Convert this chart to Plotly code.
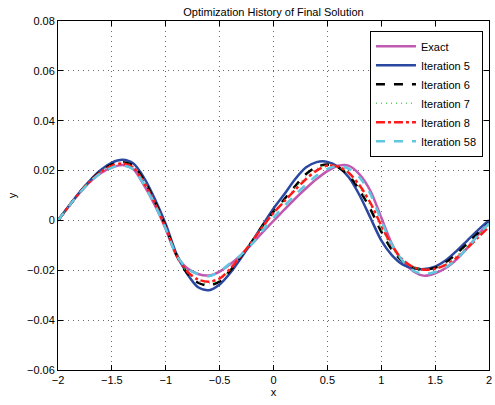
import plotly.graph_objects as go

x_vals = [round(-2 + 0.1 * i, 1) for i in range(41)]

exact = [0.0, 0.0057, 0.0110, 0.0156, 0.0191, 0.0212, 0.0222, 0.0205, 0.0140, 0.0060,
         -0.0035, -0.0140, -0.0192, -0.0215, -0.0221, -0.0205, -0.0175, -0.0138, -0.0094, -0.0047,
         -0.0002, 0.0043, 0.0087, 0.0128, 0.0166, 0.0198, 0.0219, 0.0219, 0.0184, 0.0118,
         0.0012, -0.0095, -0.0165, -0.0205, -0.0222, -0.0212, -0.0191, -0.0156, -0.0110, -0.0057, -0.0010]

iter5 = [0.0, 0.0058, 0.0113, 0.0162, 0.0203, 0.0232, 0.0243, 0.0228, 0.0170, 0.0085,
         -0.0015, -0.0135, -0.0215, -0.0268, -0.0280, -0.0257, -0.0210, -0.0150, -0.0085, -0.0018,
         0.0048, 0.0105, 0.0165, 0.0212, 0.0234, 0.0235, 0.0215, 0.0172, 0.0100, 0.0010,
         -0.0080, -0.0140, -0.0177, -0.0192, -0.0195, -0.0185, -0.0160, -0.0122, -0.0080, -0.0038, 0.0001]

iter6 = [0.0, 0.0057, 0.0112, 0.0160, 0.0198, 0.0225, 0.0234, 0.0220, 0.0160, 0.0075,
         -0.0025, -0.0140, -0.0212, -0.0250, -0.0261, -0.0245, -0.0200, -0.0143, -0.0085, -0.0020,
         0.0035, 0.0085, 0.0137, 0.0185, 0.0215, 0.0224, 0.0213, 0.0180, 0.0120, 0.0045,
         -0.0045, -0.0118, -0.0165, -0.0190, -0.0197, -0.0190, -0.0168, -0.0133, -0.0092, -0.0050, -0.0010]

iter7 = [0.0, 0.0057, 0.0111, 0.0159, 0.0196, 0.0222, 0.0231, 0.0216, 0.0155, 0.0071,
         -0.0028, -0.0140, -0.0208, -0.0243, -0.0253, -0.0239, -0.0196, -0.0141, -0.0085, -0.0022,
         0.0032, 0.0080, 0.0130, 0.0175, 0.0208, 0.0222, 0.0215, 0.0185, 0.0130, 0.0058,
         -0.0032, -0.0110, -0.0162, -0.0189, -0.0197, -0.0192, -0.0173, -0.0141, -0.0101, -0.0059, -0.0018]

iter8 = [0.0, 0.0057, 0.0111, 0.0158, 0.0195, 0.0219, 0.0228, 0.0212, 0.0150, 0.0068,
         -0.0030, -0.0140, -0.0205, -0.0237, -0.0246, -0.0233, -0.0193, -0.0140, -0.0085, -0.0025,
         0.0030, 0.0076, 0.0122, 0.0165, 0.0200, 0.0220, 0.0216, 0.0190, 0.0140, 0.0070,
         -0.0020, -0.0102, -0.0158, -0.0188, -0.0198, -0.0194, -0.0178, -0.0150, -0.0110, -0.0068, -0.0025]

iter58 = [0.0, 0.0057, 0.0110, 0.0156, 0.0191, 0.0212, 0.0221, 0.0205, 0.0142, 0.0062,
          -0.0033, -0.0140, -0.0193, -0.0216, -0.0224, -0.0206, -0.0170, -0.0138, -0.0094, -0.0040,
          0.0012, 0.0058, 0.0102, 0.0143, 0.0180, 0.0207, 0.0219, 0.0207, 0.0172, 0.0105,
          0.0000, -0.0098, -0.0163, -0.0202, -0.0215, -0.0207, -0.0188, -0.0154, -0.0110, -0.0058, -0.0012]

series_names = ["Exact", "Iteration 5", "Iteration 6", "Iteration 7", "Iteration 8", "Iteration 58"]
series_data = [exact, iter5, iter6, iter7, iter8, iter58]
series_colors = ["#c05ab0", "#2a48a0", "#000000", "#5ccc5c", "#ff1a1a", "#5fc8e0"]
series_dash = ["solid", "solid", "dash", "1px,4px", "dashdot", "dash"]
series_width = [2.5, 2.5, 2.5, 1.5, 2.5, 2.5]

x_ticks = [-2, -1.5, -1, -0.5, 0, 0.5, 1, 1.5, 2]
y_ticks = [-0.06, -0.04, -0.02, 0, 0.02, 0.04, 0.06, 0.08]

fig = go.Figure()
for name, ys, c, d, w in zip(series_names, series_data, series_colors, series_dash, series_width):
    fig.add_trace(go.Scatter(
        x=x_vals, y=ys, mode="lines", name=name,
        line=dict(color=c, dash=d, width=w, shape="spline", smoothing=0.8),
    ))

axis_common = dict(
    showline=True, linecolor="black", linewidth=1, mirror="ticks",
    ticks="inside", ticklen=5, tickcolor="black", tickwidth=1,
    showgrid=True, gridcolor="#6a6a6a", gridwidth=1, griddash="1px,4px",
    zeroline=False, tickfont=dict(size=11, color="black"),
    ticklabeloverflow="allow",
)

fig.update_xaxes(range=[-2, 2], tickvals=x_ticks, title=dict(text="x", standoff=3, font=dict(size=11)), **axis_common)
fig.update_yaxes(range=[-0.06, 0.08], tickvals=y_ticks, title=dict(text="y", standoff=8, font=dict(size=11)), **axis_common)

fig.update_layout(
    width=495, height=405,
    margin=dict(l=58, r=3, t=21, b=35),
    paper_bgcolor="white", plot_bgcolor="white",
    font=dict(family="Liberation Sans, Arial, sans-serif", size=11, color="black"),
    title=dict(text="Optimization History of Final Solution", x=0.5, xref="paper", xanchor="center",
               y=0.970, yanchor="middle", font=dict(size=11)),
    legend=dict(x=0.986, y=0.972, xanchor="right", yanchor="top",
                bgcolor="white", bordercolor="black", borderwidth=1,
                font=dict(size=11), itemwidth=40, tracegroupgap=0),
    showlegend=True,
)

fig.write_html(
    "out.html",
    config={"displayModeBar": False},
    post_script="document.body.style.margin='0';document.body.style.overflow='hidden';",
)
